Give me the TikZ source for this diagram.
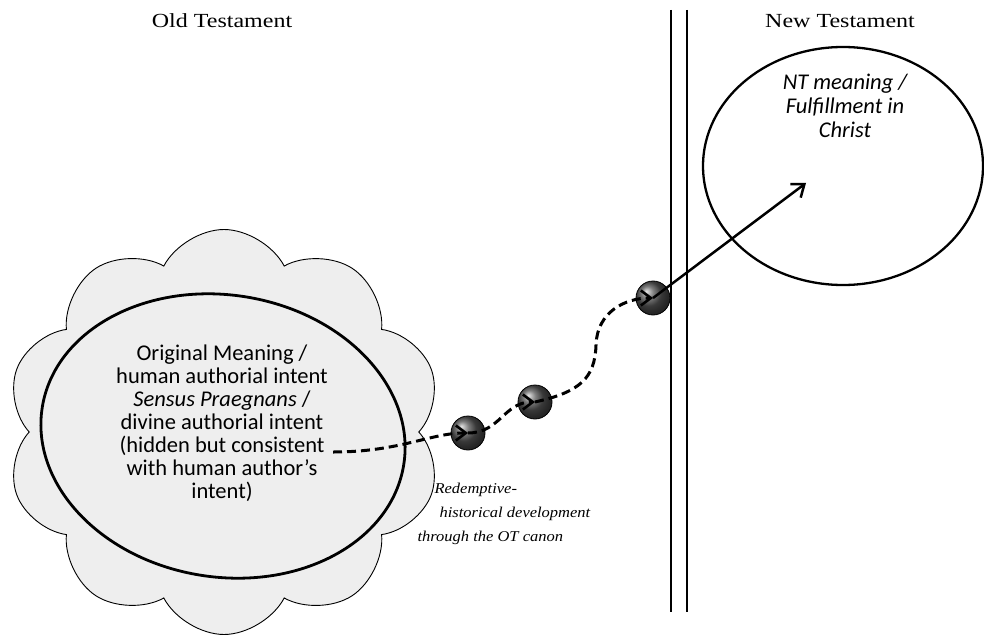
\documentclass[tikz,border=0pt]{standalone}
\usepackage{fontspec}
\newfontfamily\calib{Carlito}
\newfontfamily\headserif[FakeStretch=1.2]{Liberation Serif}
\newfontfamily\noteserif[FakeStretch=1.1]{Liberation Serif}
\usetikzlibrary{shapes.symbols,shapes.geometric,arrows.meta}
\tikzset{
	heading/.style  = {font=\headserif\fontsize{20}{24}\selectfont},
	cloudbox/.style = {cloud, cloud puffs=10, cloud puff arc=125, cloud ignores aspect,
		draw, line width=0.9pt, fill=gray!13,
		minimum width=436pt, minimum height=405pt},
	meaning/.style  = {ellipse, draw, line width=2.8pt,
		minimum width=366pt, minimum height=282pt},
	ntcircle/.style = {ellipse, draw, line width=2.3pt,
		minimum width=280pt, minimum height=238pt},
	ballnode/.style = {circle, draw, line width=0.8pt, minimum size=34pt,
		inner sep=0pt, shading=ball, ball color=black!68},
	devline/.style  = {line width=3pt, dash pattern=on 9pt off 5pt,
		-{Straight Barb[length=10pt,width=15pt,line width=2.6pt]}},
	bodytext/.style = {font=\calib\fontsize{22.5}{23}\selectfont, align=center}
}

\begin{document}
\begin{tikzpicture}[x=1pt, y=-1pt]
	\useasboundingbox (0,0) rectangle (984,639);
	% headings
	\node [heading] at (222,21) (oldt) {Old Testament};
	\node [heading] at (840,21) (newt) {New Testament};
	% the double line between the testaments
	\draw [line width=2.6pt] (671,10) coordinate (wallA) -- (671,612);
	\draw [line width=2.6pt] (687,10) coordinate (wallB) -- (687,612);
	% old testament side
	\node [cloudbox] at (224,432) (cloud) {};
	\node [meaning, rotate=-9] at (223,436) (orig) {};
	\node [bodytext] at (222,423) (origtext) {Original Meaning /\\
		human authorial intent\\
		\textit{Sensus Praegnans} /\\
		divine authorial intent\\
		(hidden but consistent\\
		with human author’s\\
		intent)};
	% new testament side
	\node [ntcircle] at (843,166) (fulfil) {};
	\node [bodytext, font=\calib\itshape\fontsize{22.5}{24}\selectfont] at (845,106) (fulfiltext) {NT meaning /\\ Fulfillment in\\ Christ};
	\coordinate (target) at (806,183);
	% stages of development
	\node [ballnode] at (468,433) (stageA) {};
	\node [ballnode] at (535,402) (stageB) {};
	\node [ballnode] at (653,298) (stageC) {};
	\coordinate (origin) at (333,452);
	\draw [devline] (origin) .. controls (400,452) and (430,433) .. (stageA.center);
	\draw [devline] (stageA.center) .. controls (500,433) and (504,402) .. (stageB.center);
	\draw [devline] (stageB.center) .. controls (580,392) and (595,378) .. (596,345)
		.. controls (597,312) and (625,298) .. (stageC.center);
	\draw [line width=2.5pt, -{Straight Barb[length=11pt,width=17pt,line width=2.5pt]}] (stageC.center) -- (target);
	\node [font=\noteserif\itshape\fontsize{15}{24}\selectfont, align=left, anchor=north west] at (414,480) (devtext)
		{\hspace*{17pt}Redemptive-\\ \hspace*{22pt}historical development\\ through the OT canon};
\end{tikzpicture}
\end{document}
